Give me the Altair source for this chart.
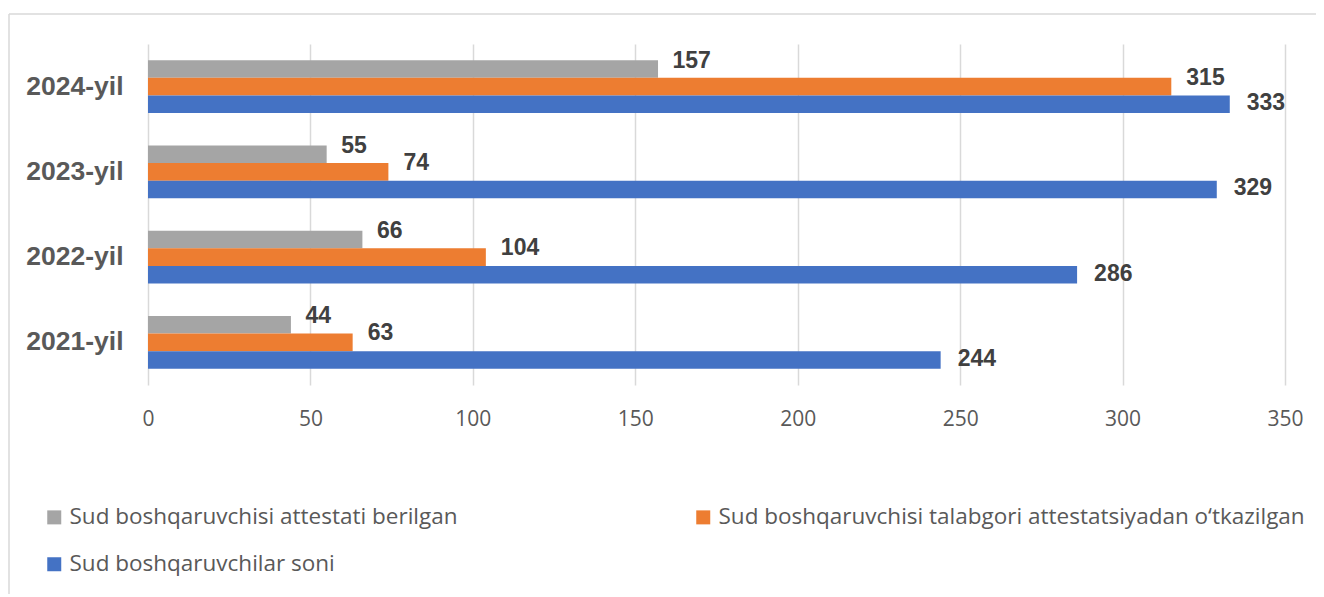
import altair as alt
import pandas as pd

years = ["2024-yil", "2023-yil", "2022-yil", "2021-yil"]
series = [
    "Sud boshqaruvchisi attestati berilgan",
    "Sud boshqaruvchisi talabgori attestatsiyadan o\u2018tkazilgan",
    "Sud boshqaruvchilar soni",
]
colors = ["#A5A5A5", "#ED7D31", "#4472C4"]
given = [157, 55, 66, 44]
tested = [315, 74, 104, 63]
total = [333, 329, 286, 244]
ticks = [0, 50, 100, 150, 200, 250, 300, 350]

rows = []
for s, vals in zip(series, [given, tested, total]):
    for y, v in zip(years, vals):
        rows.append({"year": y, "series": s, "value": v})
df = pd.DataFrame(rows)

W, H = 1137, 341

y_enc = alt.Y(
    "year:N",
    sort=years,
    scale=alt.Scale(paddingInner=0.38, paddingOuter=0.19),
    axis=alt.Axis(
        title=None, ticks=False, domain=False, labelPadding=25,
        labelFont="Liberation Sans", labelFontWeight="bold", labelFontSize=26.5,
        labelColor="#595959",
    ),
)
x_enc = alt.X(
    "value:Q",
    scale=alt.Scale(domain=[0, 350], nice=False),
    axis=alt.Axis(
        title=None, values=ticks, ticks=False, domain=False, grid=True,
        gridColor="#d9d9d9", gridWidth=1.5, labelPadding=23, labelFlush=False,
        labelFont="Open Sans", labelFontSize=21, labelColor="#595959",
    ),
)
yoff = alt.YOffset("series:N", sort=series, scale=alt.Scale(paddingInner=0))

base = alt.Chart(df)

bars = base.mark_bar().encode(
    x=x_enc,
    y=y_enc,
    yOffset=yoff,
    color=alt.Color(
        "series:N",
        sort=series,
        scale=alt.Scale(domain=series, range=colors),
        legend=alt.Legend(
            title=None, orient="none", legendX=-105, legendY=462,
            direction="horizontal", columns=2, columnPadding=234, rowPadding=24,
            symbolType="square", symbolSize=196, symbolStrokeWidth=0,
            labelFont="Open Sans", labelFontSize=22.5, labelColor="#595959",
            labelOffset=4, labelLimit=2000,
        ),
    ),
)

offsets = [(14.5, -8.5), (15, -9), (17, -1)]
texts = []
for s, (dx, dy) in zip(series, offsets):
    texts.append(
        base.transform_filter(alt.datum.series == s)
        .mark_text(
            align="left", baseline="middle", dx=dx, dy=dy,
            font="Liberation Sans", fontWeight="bold", fontSize=23, color="#404040",
        )
        .encode(x="value:Q", y=alt.Y("year:N", sort=years), yOffset=yoff, text="value:Q")
    )

frame_df = pd.DataFrame({"k": [0]})
frame_left = alt.Chart(frame_df).mark_rule(color="#d9d9d9", strokeWidth=1.5).encode(
    x=alt.value(-139), y=alt.value(-30), y2=alt.value(600)
)
frame_top = alt.Chart(frame_df).mark_rule(color="#d9d9d9", strokeWidth=1.5).encode(
    x=alt.value(-139), x2=alt.value(1400), y=alt.value(-30)
)

chart = alt.layer(bars, *texts, frame_left, frame_top).properties(
    width=W,
    height=H,
    autosize=alt.AutoSizeParams(type="none"),
    padding={"left": 140, "top": 36, "right": 31, "bottom": 209},
    background="white",
).configure_view(stroke=None)

chart.save("out.html", embed_options={"renderer": "svg", "actions": False})
